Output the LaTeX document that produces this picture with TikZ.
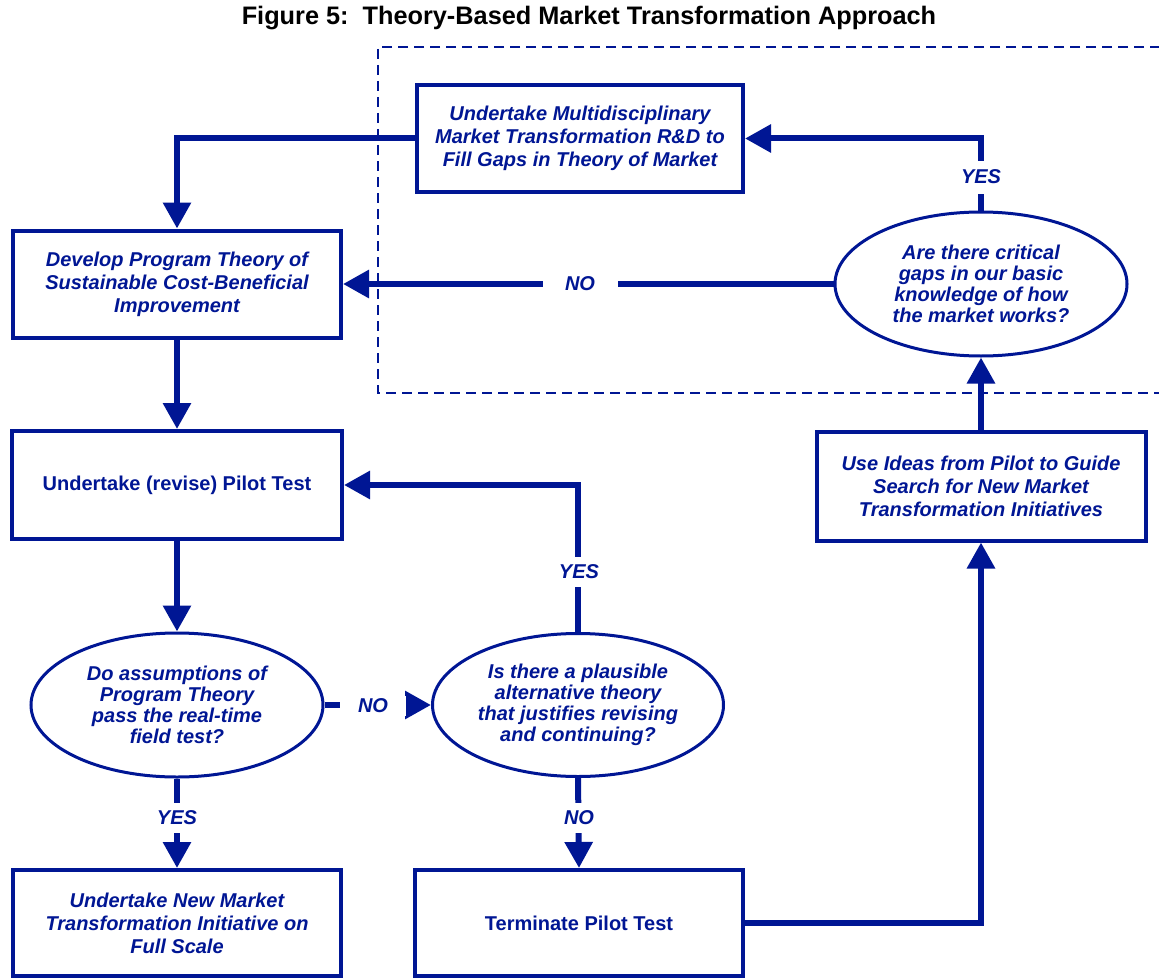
\documentclass[tikz,border=0pt]{standalone}
\usepackage{fontspec}
\setmainfont{Liberation Sans}
\usetikzlibrary{arrows.meta,shapes.geometric}
\definecolor{navy}{RGB}{0,22,148}
\tikzset{
  box/.style={draw=navy, line width=4pt, rectangle, align=center, text=navy, inner sep=0pt,
    font=\fontsize{20}{23}\selectfont\bfseries\itshape},
  boxup/.style={box, font=\fontsize{20}{23}\selectfont\bfseries},
  oval/.style={draw=navy, line width=3pt, ellipse, align=center, text=navy, inner sep=0pt,
    font=\fontsize{20}{21}\selectfont\bfseries\itshape},
  conn/.style={draw=navy, line width=6pt},
  arr/.style={conn, -{Triangle[width=27pt,length=26pt]}},
  lbl/.style={fill=white, text=navy, inner sep=0pt, font=\fontsize{20}{23}\selectfont\bfseries\itshape},
  dashbox/.style={draw=navy, line width=1.8pt, dash pattern=on 10pt off 6pt}
}
\begin{document}
\begin{tikzpicture}[x=1pt,y=-1pt]
\useasboundingbox (0,0) rectangle (1159,979);
\fill[white] (0,0) rectangle (1159,979);

\node[font=\fontsize{25.3}{29}\selectfont\bfseries] (title) at (589,18) {Figure 5:\ \ Theory-Based Market Transformation Approach};

% dashed region
\coordinate (dA) at (1160,47);
\coordinate (dB) at (378,47);
\coordinate (dC) at (378,393);
\coordinate (dD) at (1160,393);
\draw[dashbox] (dA) -- (dB) -- (dC) -- (dD);

% nodes
\node[box, minimum width=326pt, minimum height=106pt] (rd) at (580,138.5)
  {Undertake Multidisciplinary\\Market Transformation R\&D to\\Fill Gaps in Theory of Market};
\node[box, minimum width=328pt, minimum height=107pt] (dev) at (177,284)
  {Develop Program Theory of\\Sustainable Cost-Beneficial\\Improvement};
\node[boxup, minimum width=330pt, minimum height=108pt] (pilot) at (177,485)
  {Undertake (revise) Pilot Test};
\node[box, minimum width=329pt, minimum height=109pt] (use) at (981,486)
  {Use Ideas from Pilot to Guide\\Search for New Market\\Transformation Initiatives};
\node[oval, minimum width=292pt, minimum height=144pt] (q1) at (981,284)
  {Are there critical\\gaps in our basic\\knowledge of how\\the market works?};
\node[oval, minimum width=292pt, minimum height=144pt] (asm) at (177,705)
  {Do assumptions of\\Program Theory\\pass the real-time\\field test?};
\node[oval, minimum width=291pt, minimum height=143pt] (alt) at (578,705)
  {Is there a plausible\\alternative theory\\that justifies revising\\and continuing?};
\node[box, minimum width=328pt, minimum height=106pt] (full) at (177,923)
  {Undertake New Market\\Transformation Initiative on\\Full Scale};
\node[boxup, minimum width=328pt, minimum height=106pt] (term) at (579,923)
  {Terminate Pilot Test};

% connectors
\draw[arr] (rd.west) -| (dev.north);
\draw[arr] (q1.north) |- (rd.east);
\draw[arr] (q1.west) -- (dev.east);
\draw[arr] (dev.south) -- (pilot.north);
\draw[arr] (use.north) -- (q1.south);
\draw[arr] (pilot.south) -- (asm.north);
\draw[arr] (asm.south) -- (full.north);
\draw[arr] (asm.east) -- (alt.west);
\draw[arr] (alt.north) |- (pilot.east);
\draw[arr] (alt.south) -- (term.north);
\draw[arr] (term.east) -| (use.south);

% labels on connectors
\node[lbl, minimum width=20pt, minimum height=33pt] (lyes1) at (981,177) {YES};
\node[lbl, minimum width=75pt, minimum height=20pt] (lno1) at (580,284) {NO};
\node[lbl, minimum width=20pt, minimum height=30pt] (lyes2) at (579,572) {YES};
\node[lbl, minimum width=66pt, minimum height=20pt] (lno2) at (373,706) {NO};
\node[lbl, minimum width=20pt, minimum height=30pt] (lyes3) at (177,818) {YES};
\node[lbl, minimum width=20pt, minimum height=30pt] (lno3) at (579,818) {NO};
\end{tikzpicture}
\end{document}
